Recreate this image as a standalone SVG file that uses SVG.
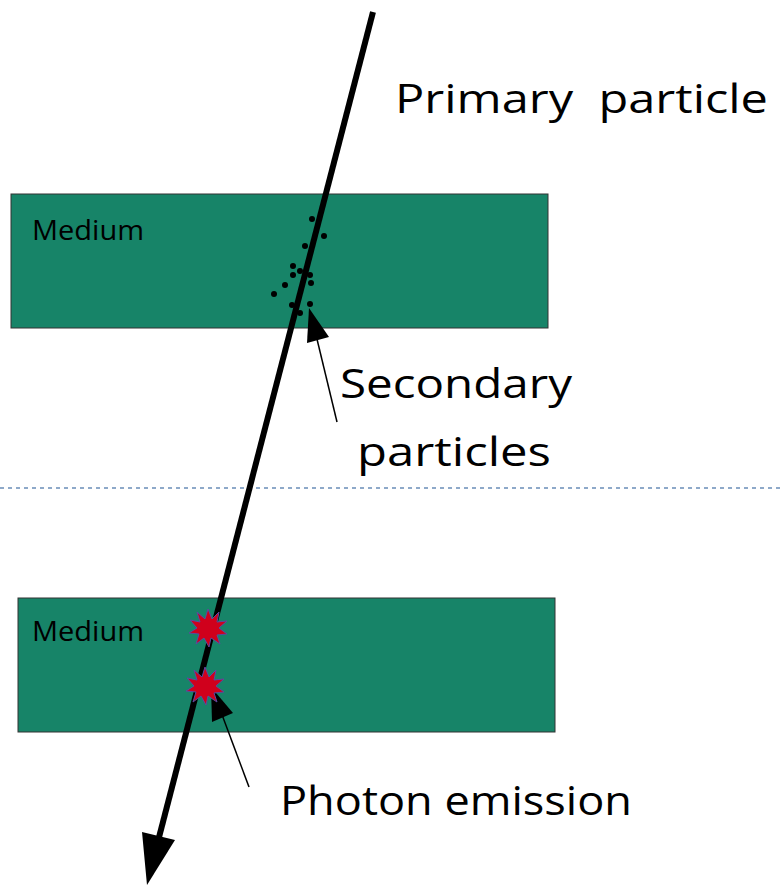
<svg xmlns="http://www.w3.org/2000/svg" width="784" height="888" viewBox="0 0 784 888">
<style>
.medium{fill:#178468;stroke:#333;stroke-width:1}
.lbl{font-family:"Open Sans","DejaVu Sans",sans-serif;fill:#000}
.big{font-size:41px}
.small{font-size:27px}
.dot{fill:#000}
.star{fill:#d0001c;stroke:#5a4aa0;stroke-width:1}
</style>
<rect width="784" height="888" fill="#fff"/>
<line x1="0" y1="488" x2="784" y2="488" stroke="#8ea9c9" stroke-width="2" stroke-dasharray="4,4"/>
<g id="medium1">
<rect class="medium" x="11" y="194" width="537" height="134"/>
<text class="lbl small" x="32" y="240" textLength="112" lengthAdjust="spacingAndGlyphs">Medium</text>
</g>
<g id="medium2">
<rect class="medium" x="18" y="598" width="537" height="134"/>
<text class="lbl small" x="32" y="641" textLength="112" lengthAdjust="spacingAndGlyphs">Medium</text>
</g>
<g id="connectors">
<line x1="373" y1="12" x2="157" y2="845" stroke="#000" stroke-width="6"/>
<polygon points="142,832 175,840 147,885" fill="#000"/>
<line x1="337" y1="422" x2="316" y2="335" stroke="#000" stroke-width="1.5"/>
<polygon points="309,308 307,343 329,337" fill="#000"/>
<line x1="249" y1="787" x2="221" y2="712" stroke="#000" stroke-width="1.5"/>
<polygon points="211,687 212,722 233,713" fill="#000"/>
</g>
<g id="secondary-particles">
<circle class="dot" cx="312" cy="219" r="3"/>
<circle class="dot" cx="324" cy="236" r="3"/>
<circle class="dot" cx="305" cy="246" r="3"/>
<circle class="dot" cx="293" cy="266" r="3"/>
<circle class="dot" cx="300" cy="271" r="3"/>
<circle class="dot" cx="293" cy="275" r="3"/>
<circle class="dot" cx="310" cy="275" r="3"/>
<circle class="dot" cx="285" cy="285" r="3"/>
<circle class="dot" cx="311" cy="283" r="3"/>
<circle class="dot" cx="274" cy="294" r="3"/>
<circle class="dot" cx="292" cy="305" r="3"/>
<circle class="dot" cx="310" cy="304" r="3"/>
<circle class="dot" cx="300" cy="313" r="3"/>
</g>
<g id="photon-emission">
<polygon class="star" transform="translate(208,628)" points="0,-19 4,-9 11,-16 9,-6 19,-7 11,0 19,6 9,7 12,16 3,10 1,19 -4,10 -12,16 -9,6 -19,5 -11,0 -18,-8 -8,-6 -11,-16 -3,-9"/>
<polygon class="star" transform="translate(205,686)" points="0,-19 4,-9 11,-16 9,-6 19,-7 11,0 19,6 9,7 12,16 3,10 1,19 -4,10 -12,16 -9,6 -19,5 -11,0 -18,-8 -8,-6 -11,-16 -3,-9"/>
</g>
<g id="labels">
<text class="lbl big" x="395" y="113" xml:space="preserve" textLength="373" lengthAdjust="spacingAndGlyphs">Primary  particle</text>
<text class="lbl big" x="340" y="398" textLength="232" lengthAdjust="spacingAndGlyphs">Secondary</text>
<text class="lbl big" x="357" y="466" textLength="194" lengthAdjust="spacingAndGlyphs">particles</text>
<text class="lbl big" x="280" y="815" textLength="352" lengthAdjust="spacingAndGlyphs">Photon emission</text>
</g>
</svg>
